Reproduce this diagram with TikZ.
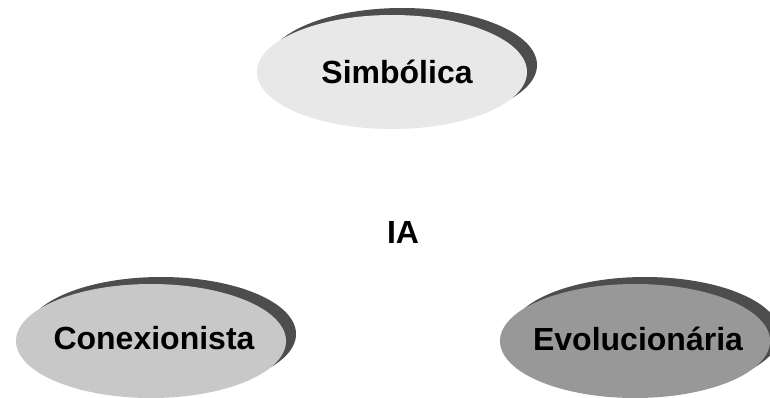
\documentclass[tikz,border=0pt]{standalone}
\usepackage{fontspec}
\setmainfont{Liberation Sans}
\usetikzlibrary{shapes.geometric}
\definecolor{shadowgray}{RGB}{77,77,77}
\definecolor{lightfill}{RGB}{232,232,232}
\definecolor{midfill}{RGB}{200,200,200}
\definecolor{darkfill}{RGB}{152,152,152}
\begin{document}
\begin{tikzpicture}[x=1pt,y=-1pt,
  blob/.style={ellipse, inner sep=0pt, minimum width=270pt, minimum height=114pt},
  backdrop/.style={blob, fill=shadowgray},
  label/.style={font=\fontsize{32}{38}\selectfont\bfseries, text=black}]
  \useasboundingbox (0,0) rectangle (770,397);
  % Simbólica
  \node[backdrop] (s-sh) at (402,65) {};
  \node[blob, fill=lightfill] (s) at (392,72) {};
  \node[label] (s-t) at (397,72) {Simbólica};
  % Conexionista
  \node[backdrop] (c-sh) at (161,334) {};
  \node[blob, fill=midfill] (c) at (151,341) {};
  \node[label] (c-t) at (154,338) {Conexionista};
  % Evolucionária
  \node[backdrop] (e-sh) at (645,334) {};
  \node[blob, fill=darkfill] (e) at (635,341) {};
  \node[label] (e-t) at (638,339) {Evolucionária};
  % centre label
  \node[label] (ia) at (403,232) {IA};
\end{tikzpicture}
\end{document}
